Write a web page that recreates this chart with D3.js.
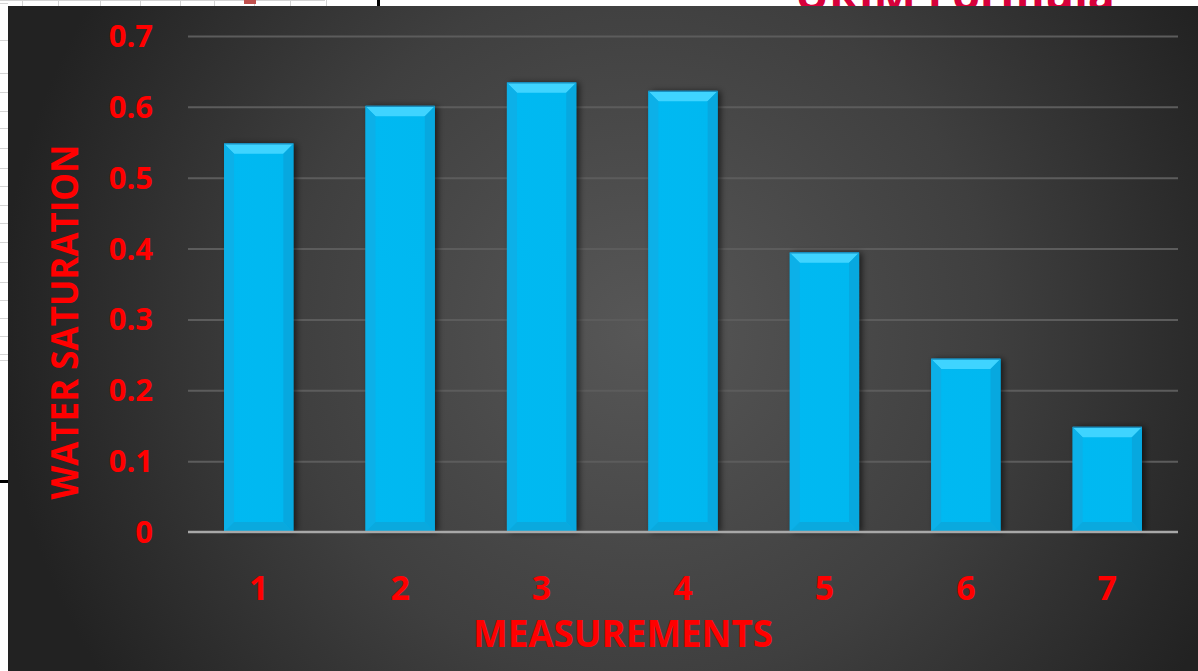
<!DOCTYPE html>
<html><head><meta charset="utf-8">
<script src="https://cdn.jsdelivr.net/npm/d3@7"></script>
<style>html,body{margin:0;padding:0;background:#fff;overflow:hidden}svg{display:block}</style>
</head><body>
<script>
const categories = ["1","2","3","4","5","6","7"];
const values = [0.548, 0.601, 0.634, 0.622, 0.394, 0.244, 0.148];
const yTicks = [0, 0.1, 0.2, 0.3, 0.4, 0.5, 0.6, 0.7];
const yTickLabels = ["0","0.1","0.2","0.3","0.4","0.5","0.6","0.7"];
const xTitle = "MEASUREMENTS";
const yTitle = "WATER SATURATION";
const topTitle = "URIM Formula";

const W = 1198, H = 671;
const svg = d3.select("body").append("svg").attr("width", W).attr("height", H);
const defs = svg.append("defs");

// background white + spreadsheet grid fragments
svg.append("rect").attr("width", W).attr("height", H).attr("fill", "#fff");
const grid = svg.append("g").attr("stroke", "#d4d4d4").attr("stroke-width", 1);
[22, 58, 100, 140, 180, 214, 254, 290, 326].forEach(x => grid.append("line").attr("x1", x + .5).attr("x2", x + .5).attr("y1", 0).attr("y2", 6));
[3, 40, 73, 92, 111, 128, 148, 168, 186, 205, 223, 242, 262, 282, 300, 318, 336, 354].forEach(y => grid.append("line").attr("x1", 0).attr("x2", 8).attr("y1", y + .5).attr("y2", y + .5));
grid.append("line").attr("x1", 0).attr("x2", 325).attr("y1", 0.5).attr("y2", 0.5);
grid.append("line").attr("x1", 0).attr("x2", 8).attr("y1", 360.5).attr("y2", 360.5);
svg.append("rect").attr("x", 244).attr("y", 0).attr("width", 12).attr("height", 4).attr("fill", "#c0504d");
svg.append("rect").attr("x", 377).attr("y", 0).attr("width", 3).attr("height", 7).attr("fill", "#000");
svg.append("rect").attr("x", 0).attr("y", 480).attr("width", 9).attr("height", 3).attr("fill", "#000");
svg.append("text").attr("x", 955).attr("y", 10).attr("text-anchor", "middle")
  .attr("font-family", "Open Sans, sans-serif").attr("font-weight", 700).attr("font-size", 42)
  .attr("fill", "#d6003a").attr("textLength", 320).attr("lengthAdjust", "spacingAndGlyphs").text(topTitle);

// dark panel
const bg = defs.append("radialGradient").attr("id", "bg").attr("gradientUnits", "userSpaceOnUse")
  .attr("cx", 640).attr("cy", 330).attr("r", 640);
bg.append("stop").attr("offset", "0").attr("stop-color", "#575757");
bg.append("stop").attr("offset", "0.55").attr("stop-color", "#3f3f3f");
bg.append("stop").attr("offset", "1").attr("stop-color", "#222");
svg.append("rect").attr("x", 8).attr("y", 6).attr("width", W - 8).attr("height", H - 6).attr("fill", "url(#bg)");

const x = d3.scaleBand().domain(categories).range([188, 1178]).paddingInner(0.51).paddingOuter(0.255);
const y = d3.scaleLinear().domain([0, 0.7]).range([532, 36]);

// gridlines
const gy = svg.append("g").attr("transform", "translate(188,0)")
  .call(d3.axisLeft(y).tickValues(yTicks.slice(1)).tickSize(-990).tickFormat(""));
gy.select(".domain").remove();
gy.selectAll("line").attr("stroke", "#5c5c5c").attr("stroke-width", 2);

// bar gradients
const side = defs.append("linearGradient").attr("id", "side").attr("x1", 0).attr("x2", 1).attr("y1", 0).attr("y2", 0);
[["0", "#0aa6d8"], ["0.06", "#06b9f2"], ["0.9", "#00b8f0"], ["1", "#0a9fcf"]].forEach(d => side.append("stop").attr("offset", d[0]).attr("stop-color", d[1]));
const shadow = defs.append("filter").attr("id", "sh").attr("x", "-20%").attr("y", "-10%").attr("width", "150%").attr("height", "130%");
shadow.append("feDropShadow").attr("dx", 3).attr("dy", 0).attr("stdDeviation", 3).attr("flood-color", "#000").attr("flood-opacity", 0.6);

const bars = svg.append("g").selectAll("g").data(values).join("g");
bars.each(function (v, i) {
  const g = d3.select(this);
  const x0 = x(categories[i]), bw = x.bandwidth(), y0 = y(v), y1 = y(0), b = 10;
  g.append("rect").attr("x", x0).attr("y", y0).attr("width", bw).attr("height", y1 - y0)
    .attr("fill", "url(#side)").attr("filter", "url(#sh)");
  g.append("path").attr("d", `M${x0},${y0}H${x0 + bw}L${x0 + bw - b},${y0 + b}H${x0 + b}Z`).attr("fill", "#3fd4ff");
  g.append("path").attr("d", `M${x0},${y0}H${x0 + bw}`).attr("stroke", "#1a8fbf").attr("stroke-width", 1.5);
  g.append("path").attr("d", `M${x0},${y0}L${x0 + b},${y0 + b}V${y1 - b}L${x0},${y1}Z`).attr("fill", "#0cb0e8");
  g.append("path").attr("d", `M${x0 + bw},${y0}L${x0 + bw - b},${y0 + b}V${y1 - b}L${x0 + bw},${y1}Z`).attr("fill", "#07a8df");
  g.append("path").attr("d", `M${x0},${y1}H${x0 + bw}L${x0 + bw - b},${y1 - b}H${x0 + b}Z`).attr("fill", "#0aa9de");
});

// baseline
svg.append("line").attr("x1", 188).attr("x2", 1178).attr("y1", y(0)).attr("y2", y(0))
  .attr("stroke", "#a8a8a8").attr("stroke-width", 2.5);

const font = "Open Sans, sans-serif";
svg.append("g").selectAll("text").data(yTicks).join("text")
  .attr("x", 153).attr("y", d => y(d) + 11).attr("text-anchor", "end")
  .attr("font-family", font).attr("font-weight", 700).attr("font-size", 31).attr("fill", "#ff0000")
  .text((d, i) => yTickLabels[i]);

svg.append("g").selectAll("text").data(categories).join("text")
  .attr("x", d => x(d) + x.bandwidth() / 2).attr("y", 600).attr("text-anchor", "middle")
  .attr("font-family", font).attr("font-weight", 700).attr("font-size", 34).attr("fill", "#ff0000")
  .text(d => d);

svg.append("text").attr("x", 623).attr("y", 647).attr("text-anchor", "middle")
  .attr("font-family", font).attr("font-weight", 700).attr("font-size", 37).attr("fill", "#ff0000")
  .attr("textLength", 300).attr("lengthAdjust", "spacingAndGlyphs").text(xTitle);
svg.append("text").attr("transform", "translate(78,322) rotate(-90)").attr("text-anchor", "middle")
  .attr("font-family", font).attr("font-weight", 700).attr("font-size", 37).attr("fill", "#ff0000")
  .attr("textLength", 355).attr("lengthAdjust", "spacingAndGlyphs").text(yTitle);
</script>
</body></html>
